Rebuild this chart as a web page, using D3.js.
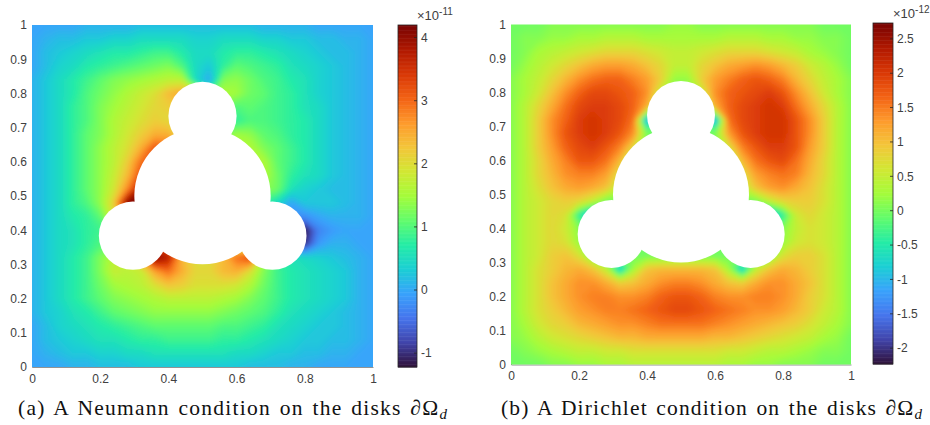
<!DOCTYPE html>
<html>
<head>
<meta charset="utf-8">
<script src="https://cdn.jsdelivr.net/npm/d3@7"></script>
<style>
    html, body { margin: 0; padding: 0; background: #fff; }
    svg { display: block; }
    .axis text, .cbar text { font-family: "Liberation Sans", Arial, sans-serif; font-size: 12px; fill: #404040; }
    .expo { font-family: "Liberation Sans", Arial, sans-serif; font-size: 13px; fill: #404040; }
    .caption { font-family: "Liberation Serif", serif; font-size: 21.5px; word-spacing: 2px; fill: #111; }
</style>
</head>
<body>
<div id="chart"></div>
<script>
// tick labels
const xTicks = [0, 0.2, 0.4, 0.6, 0.8, 1];
const yTicks = [0, 0.1, 0.2, 0.3, 0.4, 0.5, 0.6, 0.7, 0.8, 0.9, 1];
const neumannTicks = [-1, 0, 1, 2, 3, 4];
const dirichletTicks = [-2, -1.5, -1, -0.5, 0, 0.5, 1, 1.5, 2, 2.5];

// colour range of each bar
const neumannRange = [-1.22, 4.2];
const dirichletRange = [-2.23, 2.73];

// the disks (data units)
const diskX = [0.5, 0.5, 0.296, 0.705];
const diskY = [0.5, 0.734, 0.384, 0.384];
const diskR = [0.2, 0.1, 0.1, 0.1];

// turbo colormap
const turbo = ["#30123b", "#4145ab", "#4675ed", "#39a2fc", "#1bcfd4", "#24eca6", "#61fc6c", "#a4fc3b",
    "#d1e834", "#f3c63a", "#fe9b2d", "#f36315", "#d93806", "#b11901", "#7a0402"];

// values, in tenths of the bar unit
// rows run from y=1 down to y=0, columns from x=0 to x=1, every 0.04
const neumannValues = [
    [0,0,0,0,1,1,1,1,2,2,2,2,2,2,2,2,2,1,1,1,1,0,0,0,0,0],
    [0,1,2,2,3,3,4,4,5,5,5,5,4,4,5,5,5,4,4,3,3,2,2,1,1,0],
    [0,2,3,4,5,6,7,7,8,9,9,7,5,5,7,8,8,7,6,5,4,3,2,2,1,0],
    [0,2,4,5,7,8,9,10,11,12,13,10,5,3,8,11,10,9,8,6,5,4,3,2,1,0],
    [1,3,5,7,9,11,13,14,15,16,17,17,5,0,13,14,12,10,9,7,6,4,3,2,1,0],
    [1,3,5,7,10,12,14,16,18,20,24,26,20,10,16,15,12,11,9,8,6,4,3,2,1,0],
    [1,3,5,8,10,13,15,17,19,21,22,22,15,12,12,10,11,10,9,8,6,5,3,2,1,0],
    [1,3,5,8,10,13,16,18,20,22,21,20,15,12,10,8,10,10,9,8,7,5,3,2,1,0],
    [1,3,5,8,11,13,16,19,22,25,25,20,15,10,12,15,14,11,10,8,7,5,3,2,1,0],
    [1,3,5,8,11,14,17,20,25,32,30,25,20,15,15,16,16,13,11,9,7,5,3,2,1,0],
    [1,3,5,8,11,14,17,22,30,32,30,25,20,15,15,16,16,16,11,9,7,5,3,2,1,0],
    [1,3,5,8,11,14,18,24,33,35,30,25,20,15,15,16,16,16,12,8,6,5,3,2,1,0],
    [1,3,5,8,11,14,19,28,40,40,30,25,20,15,15,15,15,14,12,6,4,3,2,2,1,0],
    [1,3,5,8,10,14,22,42,42,40,30,25,20,15,15,12,10,8,5,0,3,3,3,2,1,0],
    [1,3,5,7,8,11,20,30,35,30,25,20,15,15,12,10,8,5,0,-2,-2,0,1,1,1,0],
    [1,3,5,6,8,9,10,15,20,25,25,20,15,15,12,10,8,5,0,-6,-12,-3,-1,0,0,0],
    [1,3,5,6,8,10,11,15,20,30,30,20,15,15,15,15,12,8,3,-4,-10,-1,1,1,0,0],
    [1,3,5,7,9,13,17,20,28,42,38,24,20,20,24,30,34,15,8,6,5,4,3,2,1,0],
    [1,3,5,7,9,13,18,17,18,26,30,25,21,21,24,25,20,13,9,7,6,5,4,3,1,0],
    [1,3,5,7,9,12,15,16,17,20,23,22,20,20,20,19,16,12,9,7,6,5,4,3,1,0],
    [1,3,5,7,9,11,13,14,15,16,17,17,17,17,16,15,13,11,9,7,6,5,4,3,1,0],
    [1,3,4,6,7,9,11,12,13,14,14,14,14,14,13,12,11,10,8,6,5,4,3,2,1,0],
    [0,2,4,5,6,7,8,9,10,11,11,11,11,11,10,10,9,8,6,5,4,3,3,2,1,0],
    [0,2,3,4,5,6,6,7,8,8,9,9,9,9,8,8,7,6,5,4,3,3,2,2,1,0],
    [0,1,2,3,3,4,4,5,5,6,6,6,6,6,6,5,5,4,3,3,2,2,1,1,0,0],
    [0,0,0,1,1,2,2,2,3,3,3,3,3,3,3,3,2,2,2,1,1,0,0,0,0,0]
];

const dirichletValues = [
    [0,0,0,1,1,1,1,1,1,1,1,1,2,2,1,1,1,1,1,1,1,1,1,0,0,0],
    [0,1,1,2,2,3,3,4,4,4,3,3,3,3,3,3,4,4,4,3,3,2,2,1,1,0],
    [0,1,3,4,5,6,7,8,8,8,7,6,5,5,6,7,8,8,8,7,6,5,3,2,1,0],
    [0,2,4,6,8,10,12,13,13,12,10,8,5,5,8,10,12,13,14,13,11,9,6,4,2,0],
    [1,3,5,8,11,14,16,17,17,15,13,9,2,2,9,13,15,17,18,17,15,11,8,5,3,1],
    [1,3,6,10,14,17,19,19,18,17,14,5,0,0,5,14,17,18,19,20,18,14,10,6,3,1],
    [1,4,8,12,16,19,20,20,19,17,12,0,0,0,0,12,17,19,20,21,20,16,12,8,4,1],
    [1,4,9,14,17,20,21,20,19,16,-12,0,0,0,0,-12,16,19,20,21,21,18,14,9,4,1],
    [1,4,9,14,18,20,21,20,18,14,0,0,0,0,0,0,13,18,20,21,21,18,14,9,4,1],
    [1,4,9,13,17,19,20,18,15,8,0,0,0,0,0,0,7,15,18,20,20,18,13,9,4,1],
    [1,4,8,12,15,18,18,16,11,0,0,0,0,0,0,0,0,11,16,18,19,16,12,8,4,1],
    [1,4,8,11,14,15,15,13,7,0,0,0,0,0,0,0,0,7,13,15,16,15,11,8,4,1],
    [1,4,7,10,12,13,12,10,4,0,0,0,0,0,0,0,0,4,10,13,14,12,10,7,4,1],
    [1,4,6,8,9,8,5,0,0,0,0,0,0,0,0,0,0,0,0,5,8,9,9,7,4,1],
    [1,4,6,8,7,-4,-12,0,0,0,0,0,0,0,0,0,0,0,0,-12,-4,6,8,6,4,1],
    [1,4,6,8,6,1,0,0,0,0,0,0,0,0,0,0,0,0,0,0,1,5,7,6,4,1],
    [1,4,6,8,7,2,0,0,0,0,0,0,0,0,0,0,0,0,0,0,2,6,7,6,4,1],
    [1,4,6,9,10,7,0,0,0,0,0,0,0,0,0,0,0,0,0,0,7,9,9,7,4,1],
    [1,4,7,9,11,12,10,5,-8,3,10,11,11,11,11,10,3,-8,5,10,12,11,9,7,4,1],
    [1,4,7,10,12,14,14,12,9,10,12,14,15,15,14,12,10,9,12,14,14,12,10,7,4,1],
    [1,4,7,10,12,14,15,15,14,14,15,17,18,18,17,15,14,14,15,15,14,12,9,7,4,1],
    [1,4,7,9,11,13,14,15,15,16,17,18,19,19,18,17,16,15,14,14,13,11,9,6,4,1],
    [1,3,6,8,9,11,12,13,14,14,15,16,16,16,16,15,14,13,12,11,10,9,7,5,3,1],
    [1,2,4,6,7,8,9,10,11,11,12,12,12,12,12,11,11,10,9,8,7,6,5,3,2,0],
    [0,1,2,3,4,5,5,6,6,7,7,7,7,7,7,7,6,6,5,4,4,3,2,1,1,0],
    [0,0,0,1,1,2,2,3,3,4,4,4,4,4,4,4,3,3,2,2,1,1,1,0,0,0]
];

const svg = d3.select("#chart").append("svg")
    .attr("width", 930)
    .attr("height", 425);

// matlab's interpolated shading looks soft, a small blur hides the contour facets
svg.append("filter").attr("id", "soften")
    .attr("filterUnits", "userSpaceOnUse")
    .attr("x", 0).attr("y", 0).attr("width", 930).attr("height", 425)
    .append("feGaussianBlur").attr("stdDeviation", 2.5);

const colorRamp = d3.piecewise(d3.interpolateRgb, turbo);

function drawPanel(id, box, barBox, values, range, barTicks, exponent, caption) {
    const x = d3.scaleLinear().domain([0, 1]).range([box.left, box.right]);
    const y = d3.scaleLinear().domain([0, 1]).range([box.bottom, box.top]);
    const color = d3.scaleLinear().domain(range).range([0, 1]);

    // axes go under the field, like in matlab
    svg.append("g").attr("class", "axis")
        .attr("transform", `translate(0,${box.bottom})`)
        .call(d3.axisBottom(x).tickValues(xTicks).tickFormat(d3.format("")).tickSize(0).tickPadding(7))
        .call(g => g.select(".domain").attr("stroke", "#777").attr("stroke-width", 0.8));

    svg.append("g").attr("class", "axis")
        .attr("transform", `translate(${box.left},0)`)
        .call(d3.axisLeft(y).tickValues(yTicks).tickFormat(d3.format("")).tickSize(0).tickPadding(5))
        .call(g => g.select(".domain").attr("stroke", "#777").attr("stroke-width", 0.8));

    svg.append("clipPath").attr("id", "clip-" + id)
        .append("rect")
        .attr("x", box.left).attr("y", box.top)
        .attr("width", box.right - box.left).attr("height", box.bottom - box.top);

    // filled contours of the grid
    const n = values.length;
    const flat = values.flat().map(d => d / 10);
    const step = (range[1] - range[0]) / 128;
    const thresholds = d3.range(128).map(i => range[0] + i * step);
    const contours = d3.contours().size([n, n]).thresholds(thresholds)(flat);
    const path = d3.geoPath(d3.geoTransform({
        point: function(gx, gy) {
            this.stream.point(x((gx - 0.5) / (n - 1)), y(1 - (gy - 0.5) / (n - 1)));
        }
    }));

    svg.append("g").attr("clip-path", `url(#clip-${id})`)
        .append("g").attr("filter", "url(#soften)")
        .selectAll("path")
        .data(contours)
        .enter().append("path")
        .attr("d", path)
        .attr("fill", d => colorRamp(color(d.value)));

    // disks are holes in the domain
    svg.append("g").selectAll("circle")
        .data(diskX)
        .enter().append("circle")
        .attr("cx", d => x(d))
        .attr("cy", (d, i) => y(diskY[i]))
        .attr("r", (d, i) => x(diskR[i]) - x(0))
        .attr("fill", "#fff");

    // colorbar
    const barY = d3.scaleLinear().domain(range).range([barBox.bottom, barBox.top]);
    const bar = svg.append("g").attr("class", "cbar");
    const steps = d3.range(256);
    const stepH = (barBox.bottom - barBox.top) / 256;
    bar.selectAll("rect.level")
        .data(steps)
        .enter().append("rect")
        .attr("class", "level")
        .attr("x", barBox.left)
        .attr("y", d => barBox.bottom - (d + 1) * stepH)
        .attr("width", barBox.right - barBox.left)
        .attr("height", stepH + 0.5)
        .attr("fill", d => colorRamp(d / 255));

    bar.append("rect")
        .attr("x", barBox.left).attr("y", barBox.top)
        .attr("width", barBox.right - barBox.left).attr("height", barBox.bottom - barBox.top)
        .attr("fill", "none").attr("stroke", "#262626").attr("stroke-width", 0.8);

    bar.selectAll("line")
        .data(barTicks)
        .enter().append("line")
        .attr("x1", barBox.right - 3).attr("x2", barBox.right)
        .attr("y1", d => barY(d)).attr("y2", d => barY(d))
        .attr("stroke", "#262626").attr("stroke-width", 0.8);

    bar.selectAll("text")
        .data(barTicks)
        .enter().append("text")
        .attr("x", barBox.right + 4)
        .attr("y", d => barY(d))
        .attr("dy", "0.35em")
        .text(d => d);

    // exponent above the bar
    const expo = svg.append("text").attr("class", "expo")
        .attr("x", barBox.right)
        .attr("y", barBox.top - 5);
    expo.append("tspan").text("×10");
    expo.append("tspan").attr("dy", -5).style("font-size", "10px").text(exponent);

    // caption under the panel
    const cap = svg.append("text").attr("class", "caption")
        .attr("x", caption.x)
        .attr("y", 415)
        .attr("textLength", caption.width);
    cap.append("tspan").text(caption.text + " ∂Ω");
    cap.append("tspan").attr("dy", 4).style("font-style", "italic").style("font-size", "15px").text("d");
}

drawPanel("a",
    {left: 32, right: 373, top: 25, bottom: 367},
    {left: 398, right: 417, top: 25, bottom: 367},
    neumannValues, neumannRange, neumannTicks, "-11",
    {x: 18, width: 429, text: "(a)  A Neumann condition on the disks"});

drawPanel("b",
    {left: 511, right: 851, top: 24.5, bottom: 364.5},
    {left: 873, right: 893, top: 23, bottom: 364},
    dirichletValues, dirichletRange, dirichletTicks, "-12",
    {x: 501, width: 421, text: "(b)  A Dirichlet condition on the disks"});
</script>
</body>
</html>
